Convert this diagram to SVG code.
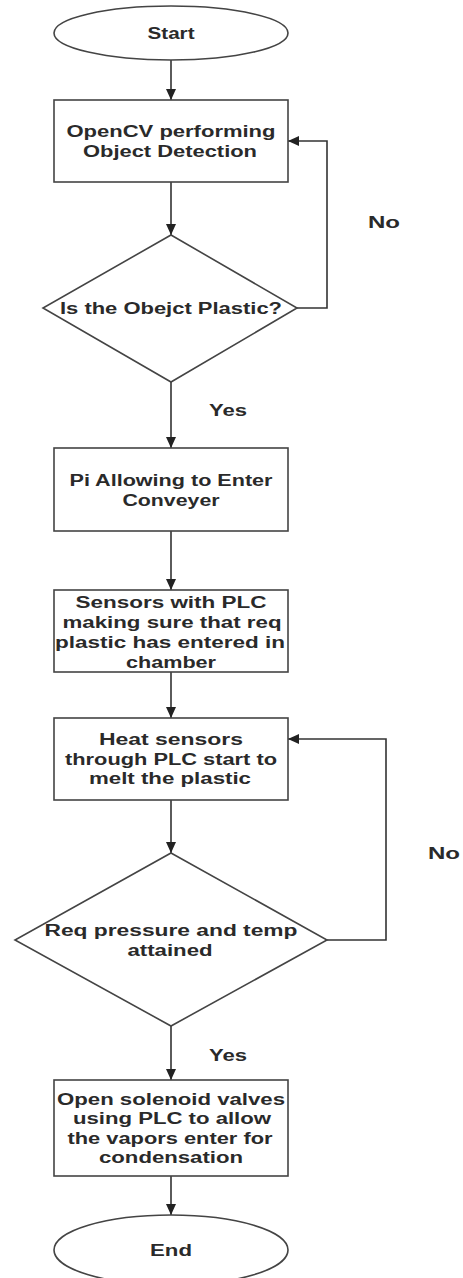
<svg xmlns="http://www.w3.org/2000/svg" width="463" height="1278" viewBox="0 0 463 1278">
<style>
.shape{fill:#fff;stroke:#444;stroke-width:1.6}
.conn{fill:none;stroke:#333;stroke-width:1.6}
text{font-family:"Liberation Sans",Arial,sans-serif;font-size:16px;font-weight:bold;fill:#2a2a2a;text-anchor:middle}
</style>
<defs>
<marker id="arr" markerUnits="userSpaceOnUse" markerWidth="12" markerHeight="10" refX="11" refY="5" orient="auto">
<path d="M0,0 L11,5 L0,10 z" fill="#222"/>
</marker>
</defs>
<rect width="463" height="1278" fill="#fff"/>
<g id="connectors">
<path class="conn" d="M171,60 V100" marker-end="url(#arr)"/>
<path class="conn" d="M171,182 V235" marker-end="url(#arr)"/>
<path class="conn" d="M297,308 H327 V141 H288" marker-end="url(#arr)"/>
<path class="conn" d="M171,382 V448" marker-end="url(#arr)"/>
<path class="conn" d="M171,531 V590" marker-end="url(#arr)"/>
<path class="conn" d="M171,672 V718" marker-end="url(#arr)"/>
<path class="conn" d="M171,800 V853" marker-end="url(#arr)"/>
<path class="conn" d="M327,940 H386 V739 H288" marker-end="url(#arr)"/>
<path class="conn" d="M171,1026 V1080" marker-end="url(#arr)"/>
<path class="conn" d="M171,1176 V1215" marker-end="url(#arr)"/>
<text x="384" y="228" textLength="32" lengthAdjust="spacingAndGlyphs">No</text>
<text x="228" y="416" textLength="38" lengthAdjust="spacingAndGlyphs">Yes</text>
<text x="444" y="859" textLength="32" lengthAdjust="spacingAndGlyphs">No</text>
<text x="228" y="1061" textLength="38" lengthAdjust="spacingAndGlyphs">Yes</text>
</g>
<g id="start">
<ellipse class="shape" cx="171" cy="33" rx="117" ry="27"/>
<text x="171" y="39" textLength="47" lengthAdjust="spacingAndGlyphs">Start</text>
</g>
<g id="detect">
<rect class="shape" x="54" y="100" width="234" height="82"/>
<text x="171" y="137" textLength="209" lengthAdjust="spacingAndGlyphs">OpenCV performing</text>
<text x="170" y="157" textLength="174" lengthAdjust="spacingAndGlyphs">Object Detection</text>
</g>
<g id="isPlastic">
<polygon class="shape" points="171,235 297,308 171,382 43,308"/>
<text x="171" y="314" textLength="222" lengthAdjust="spacingAndGlyphs">Is the Obejct Plastic?</text>
</g>
<g id="conveyer">
<rect class="shape" x="54" y="448" width="234" height="83"/>
<text x="171" y="486" textLength="203" lengthAdjust="spacingAndGlyphs">Pi Allowing to Enter</text>
<text x="171" y="506" textLength="97" lengthAdjust="spacingAndGlyphs">Conveyer</text>
</g>
<g id="sensors">
<rect class="shape" x="54" y="590" width="234" height="82"/>
<text x="171" y="608" textLength="191" lengthAdjust="spacingAndGlyphs">Sensors with PLC</text>
<text x="172" y="628" textLength="219" lengthAdjust="spacingAndGlyphs">making sure that req</text>
<text x="170" y="648" textLength="230" lengthAdjust="spacingAndGlyphs">plastic has entered in</text>
<text x="171" y="668" textLength="90" lengthAdjust="spacingAndGlyphs">chamber</text>
</g>
<g id="heat">
<rect class="shape" x="54" y="718" width="234" height="82"/>
<text x="171" y="745" textLength="144" lengthAdjust="spacingAndGlyphs">Heat sensors</text>
<text x="171" y="765" textLength="212" lengthAdjust="spacingAndGlyphs">through PLC start to</text>
<text x="170" y="784" textLength="162" lengthAdjust="spacingAndGlyphs">melt the plastic</text>
</g>
<g id="pressure">
<polygon class="shape" points="171,853 327,940 171,1026 15,940"/>
<text x="171" y="936" textLength="253" lengthAdjust="spacingAndGlyphs">Req pressure and temp</text>
<text x="170" y="956" textLength="85" lengthAdjust="spacingAndGlyphs">attained</text>
</g>
<g id="valves">
<rect class="shape" x="54" y="1080" width="234" height="96"/>
<text x="171" y="1105" textLength="228" lengthAdjust="spacingAndGlyphs">Open solenoid valves</text>
<text x="172" y="1124" textLength="198" lengthAdjust="spacingAndGlyphs">using PLC to allow</text>
<text x="170" y="1144" textLength="205" lengthAdjust="spacingAndGlyphs">the vapors enter for</text>
<text x="171" y="1163" textLength="144" lengthAdjust="spacingAndGlyphs">condensation</text>
</g>
<g id="end">
<ellipse class="shape" cx="171" cy="1250" rx="117" ry="35"/>
<text x="171" y="1256" textLength="42" lengthAdjust="spacingAndGlyphs">End</text>
</g>
</svg>
